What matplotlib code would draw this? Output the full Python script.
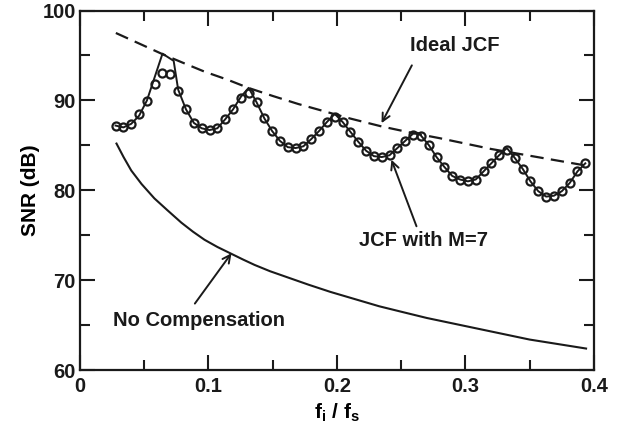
import matplotlib
matplotlib.use('Agg')
import matplotlib.pyplot as plt
from matplotlib.ticker import MultipleLocator

plt.rcParams['font.family'] = ['Liberation Sans', 'DejaVu Sans']
plt.rcParams['font.weight'] = 'bold'
plt.rcParams['mathtext.fontset'] = 'custom'
plt.rcParams['mathtext.rm'] = 'Liberation Sans:bold'
plt.rcParams['mathtext.it'] = 'Liberation Sans:bold'
plt.rcParams['mathtext.bf'] = 'Liberation Sans:bold'

# simulated JCF with M=7 (circles)
sim_x = [0.0278, 0.0339, 0.0400, 0.0461, 0.0522, 0.0582, 0.0643, 0.0704, 0.0765, 0.0826,
         0.0887, 0.0948, 0.1009, 0.1070, 0.1131, 0.1192, 0.1253, 0.1314, 0.1375, 0.1436,
         0.1496, 0.1557, 0.1618, 0.1679, 0.1740, 0.1801, 0.1862, 0.1923, 0.1984, 0.2045,
         0.2106, 0.2167, 0.2228, 0.2289, 0.2350, 0.2410, 0.2471, 0.2532, 0.2593, 0.2654,
         0.2715, 0.2776, 0.2837, 0.2898, 0.2959, 0.3020, 0.3081, 0.3142, 0.3202, 0.3263,
         0.3324, 0.3385, 0.3446, 0.3507, 0.3568, 0.3629, 0.3690, 0.3751, 0.3812, 0.3873,
         0.3934]
sim_y = [87.2, 87.0, 87.4, 88.5, 89.9, 91.8, 93.1, 92.9, 91.0, 89.0,
         87.5, 86.9, 86.7, 86.9, 87.9, 89.0, 90.3, 90.8, 89.8, 88.0,
         86.6, 85.5, 84.8, 84.7, 84.9, 85.7, 86.6, 87.6, 88.2, 87.6,
         86.5, 85.4, 84.4, 83.8, 83.7, 83.9, 84.7, 85.5, 86.2, 86.05,
         85.05, 83.7, 82.6, 81.6, 81.2, 81.0, 81.2, 82.1, 83.0, 83.9,
         84.5, 83.6, 82.4, 81.0, 79.9, 79.3, 79.4, 79.9, 80.8, 82.1,
         83.0]

# theoretical JCF with M=7 (solid line)
jcf_x = [0.0278, 0.0339, 0.0400, 0.0461, 0.0522, 0.0643, 0.0730, 0.0765, 0.0826,
         0.0887, 0.0948, 0.1009, 0.1070, 0.1131, 0.1192, 0.1253, 0.1314, 0.1375, 0.1436,
         0.1496, 0.1557, 0.1618, 0.1679, 0.1740, 0.1801, 0.1862, 0.1923, 0.1984, 0.2045,
         0.2106, 0.2167, 0.2228, 0.2289, 0.2350, 0.2410, 0.2471, 0.2532, 0.2593, 0.2630,
         0.2654, 0.2715, 0.2776, 0.2837, 0.2898, 0.2959, 0.3020, 0.3081, 0.3142, 0.3202,
         0.3263, 0.3324, 0.3385, 0.3446, 0.3507, 0.3568, 0.3629, 0.3690, 0.3751, 0.3812,
         0.3873, 0.3934]
jcf_y = [87.2, 87.0, 87.4, 88.3, 90.0, 95.2, 94.4, 91.2, 89.0,
         87.5, 86.9, 86.7, 86.9, 87.9, 89.0, 90.4, 91.4, 89.8, 88.0,
         86.6, 85.5, 84.8, 84.7, 84.9, 85.7, 86.6, 87.6, 88.5, 87.6,
         86.5, 85.4, 84.4, 83.8, 83.7, 83.9, 84.7, 85.5, 86.3, 86.4,
         86.1, 85.05, 83.7, 82.6, 81.6, 81.2, 81.0, 81.2, 82.1, 83.0,
         83.9, 84.7, 83.6, 82.4, 81.0, 79.9, 79.3, 79.4, 79.9, 80.8,
         82.1, 83.0]

# ideal JCF (dashed)
ideal_x = [0.028, 0.045, 0.065, 0.080, 0.097, 0.115, 0.131, 0.150, 0.170, 0.190,
           0.210, 0.235, 0.258, 0.280, 0.300, 0.320, 0.340, 0.360, 0.380, 0.392]
ideal_y = [97.5, 96.4, 95.1, 94.2, 93.2, 92.3, 91.4, 90.5, 89.6, 88.8,
           88.0, 87.1, 86.4, 85.8, 85.2, 84.6, 84.1, 83.6, 83.1, 82.8]

# no compensation (solid)
nocomp_x = [0.0285, 0.034, 0.040, 0.048, 0.058, 0.068, 0.079, 0.088, 0.097, 0.107,
            0.117, 0.127, 0.136, 0.148, 0.160, 0.178, 0.195, 0.214, 0.233, 0.250,
            0.270, 0.290, 0.310, 0.330, 0.350, 0.372, 0.394]
nocomp_y = [85.2, 83.7, 82.2, 80.7, 79.1, 77.8, 76.4, 75.4, 74.5, 73.7,
            73.0, 72.3, 71.7, 71.0, 70.4, 69.5, 68.7, 67.9, 67.1, 66.5,
            65.8, 65.2, 64.6, 64.0, 63.4, 62.9, 62.4]

ink = '#1a1a1a'

fig = plt.figure(figsize=(6.29, 4.38), dpi=100)
ax = fig.add_axes([0.127, 0.155, 0.817, 0.821])

ax.plot(ideal_x, ideal_y, color=ink, lw=1.6, dashes=(6.0, 3.3))
ax.plot(jcf_x, jcf_y, color=ink, lw=1.4)
ax.plot(sim_x, sim_y, 'o', ms=5.8, mfc='none', mec=ink, mew=1.6)
ax.plot(nocomp_x, nocomp_y, color=ink, lw=1.5)

arrow = dict(arrowstyle='->', color=ink, lw=1.4, shrinkA=0, shrinkB=0,
             mutation_scale=14)
ax.annotate('', xy=(0.2348, 87.47), xytext=(0.2584, 93.9), arrowprops=arrow)
ax.text(0.257, 95.05, 'Ideal JCF', fontsize=14.5, ha='left', va='bottom', color=ink)
ax.annotate('', xy=(0.2425, 83.4), xytext=(0.2620, 76.0), arrowprops=arrow)
ax.text(0.2677, 74.4, 'JCF with M=7', fontsize=14.5, ha='center', va='center', color=ink)
ax.annotate('', xy=(0.118, 73.0), xytext=(0.0895, 67.4), arrowprops=arrow)
ax.text(0.0926, 65.5, 'No Compensation', fontsize=14.5, ha='center', va='center', color=ink)

ax.set_xlim(0, 0.4)
ax.set_ylim(60, 100)
ax.xaxis.set_major_locator(MultipleLocator(0.1))
ax.xaxis.set_minor_locator(MultipleLocator(0.05))
ax.yaxis.set_major_locator(MultipleLocator(10))
ax.yaxis.set_minor_locator(MultipleLocator(5))
ax.set_xticks([0, 0.1, 0.2, 0.3, 0.4])
ax.set_xticklabels(['0', '0.1', '0.2', '0.3', '0.4'])
ax.tick_params(which='both', direction='in', top=True, right=True,
               labelsize=14.5, colors=ink, width=1.5)
ax.tick_params(which='major', length=10.8)
ax.tick_params(which='minor', length=7.2)
ax.tick_params(axis='x', which='major', pad=5)
ax.tick_params(axis='y', which='major', pad=3)
for s in ax.spines.values():
    s.set_linewidth(1.6)
    s.set_color(ink)

ax.set_xlabel('f$_\\mathregular{i}$ / f$_\\mathregular{s}$', fontsize=15,
              fontweight='bold', labelpad=4)
ax.set_ylabel('SNR (dB)', fontsize=15, fontweight='bold', labelpad=2)

plt.savefig('out.png', dpi=100)
